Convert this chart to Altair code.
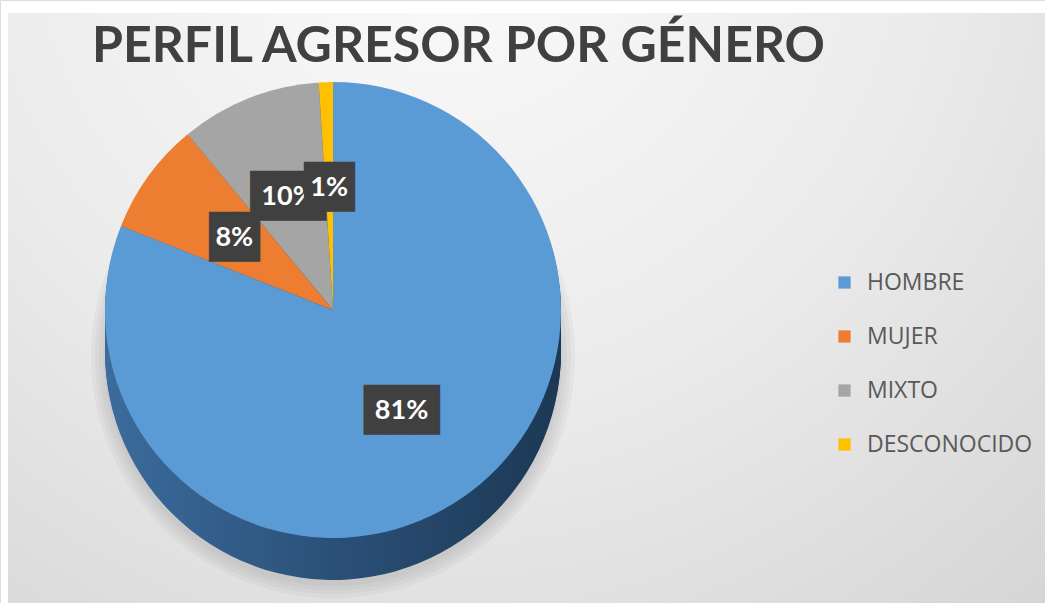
import altair as alt
import pandas as pd

categories = ["HOMBRE", "MUJER", "MIXTO", "DESCONOCIDO"]
values = [81, 8, 10, 1]
labels = ["81%", "8%", "10%", "1%"]
colors = ["#5B9BD5", "#ED7D31", "#A5A5A5", "#FFC000"]

df = pd.DataFrame({"cat": categories, "val": values, "label": labels,
                   "ord": list(range(len(categories)))})

W, H = 1045, 603
CX, CY = 333, 310
R = 228
DEPTH = 42

bg_grad = alt.RadialGradient(
    gradient="radial",
    stops=[alt.GradientStop(color="#fbfbfb", offset=0),
           alt.GradientStop(color="#ebebeb", offset=0.5),
           alt.GradientStop(color="#d2d2d2", offset=1)],
    x1=0.42, y1=0.12, r1=0, x2=0.42, y2=0.12, r2=0.95)

side_grad = alt.LinearGradient(
    gradient="linear",
    stops=[alt.GradientStop(color="#3b6c9c", offset=0),
           alt.GradientStop(color="#2b5078", offset=0.5),
           alt.GradientStop(color="#1c3854", offset=1)],
    x1=0, y1=0.5, x2=1, y2=0.5)

background = alt.Chart(pd.DataFrame({"a": [0]})).mark_rect(color=bg_grad).encode(
    x=alt.value(8), x2=alt.value(W), y=alt.value(13), y2=alt.value(H))

base = alt.Chart(df).encode(
    theta=alt.Theta("val:Q", stack=True),
    order=alt.Order("ord:Q"),
    x=alt.value(CX), y=alt.value(CY))

shadow = [base.mark_arc(outerRadius=R + s, yOffset=DEPTH + 4, color="#808080",
                        opacity=0.07, strokeWidth=0)
          for s in (2, 6, 10, 14)]

sides = [base.mark_arc(outerRadius=R, yOffset=k, color=side_grad, strokeWidth=0)
         for k in range(DEPTH, 0, -2)]

top = base.mark_arc(outerRadius=R, strokeWidth=0).encode(
    color=alt.Color("cat:N", sort=categories,
                    scale=alt.Scale(domain=categories, range=colors),
                    legend=alt.Legend(title=None, orient="none", legendX=833, legendY=271,
                                      symbolType="square", symbolSize=150,
                                      symbolStrokeWidth=0, labelFont="Open Sans",
                                      labelFontSize=23, labelColor="#595959",
                                      labelLimit=400,
                                      labelOffset=11, rowPadding=30, padding=0)))

label_layers = []
for cat in categories:
    sub = base.transform_calculate(
        box="pad('', length(datum.label), '\u2588')"
    )
    box = sub.mark_text(radius=122, font="DejaVu Sans Mono", fontSize=42,
                        color="#404040", baseline="middle").encode(
        text=alt.condition(alt.datum.cat == cat, "box:N", alt.value("")))
    txt = base.mark_text(radius=122, font="Lato", fontWeight="bold", fontSize=27,
                         color="white", baseline="middle").encode(
        text=alt.condition(alt.datum.cat == cat, "label:N", alt.value("")))
    label_layers += [box, txt]

chart = alt.layer(background, *shadow, *sides, top, *label_layers).properties(
    width=W, height=H, padding=0,
    autosize=alt.AutoSizeParams(type="none"),
    title=alt.Title("PERFIL AGRESOR POR GÉNERO", font="Lato", fontSize=50,
                    fontWeight="bold", color="#404040", anchor="start",
                    dx=92, dy=76)
).configure_view(stroke=None).configure(background="white")

chart.save("out.html", embed_options={"renderer": "svg", "actions": False})
